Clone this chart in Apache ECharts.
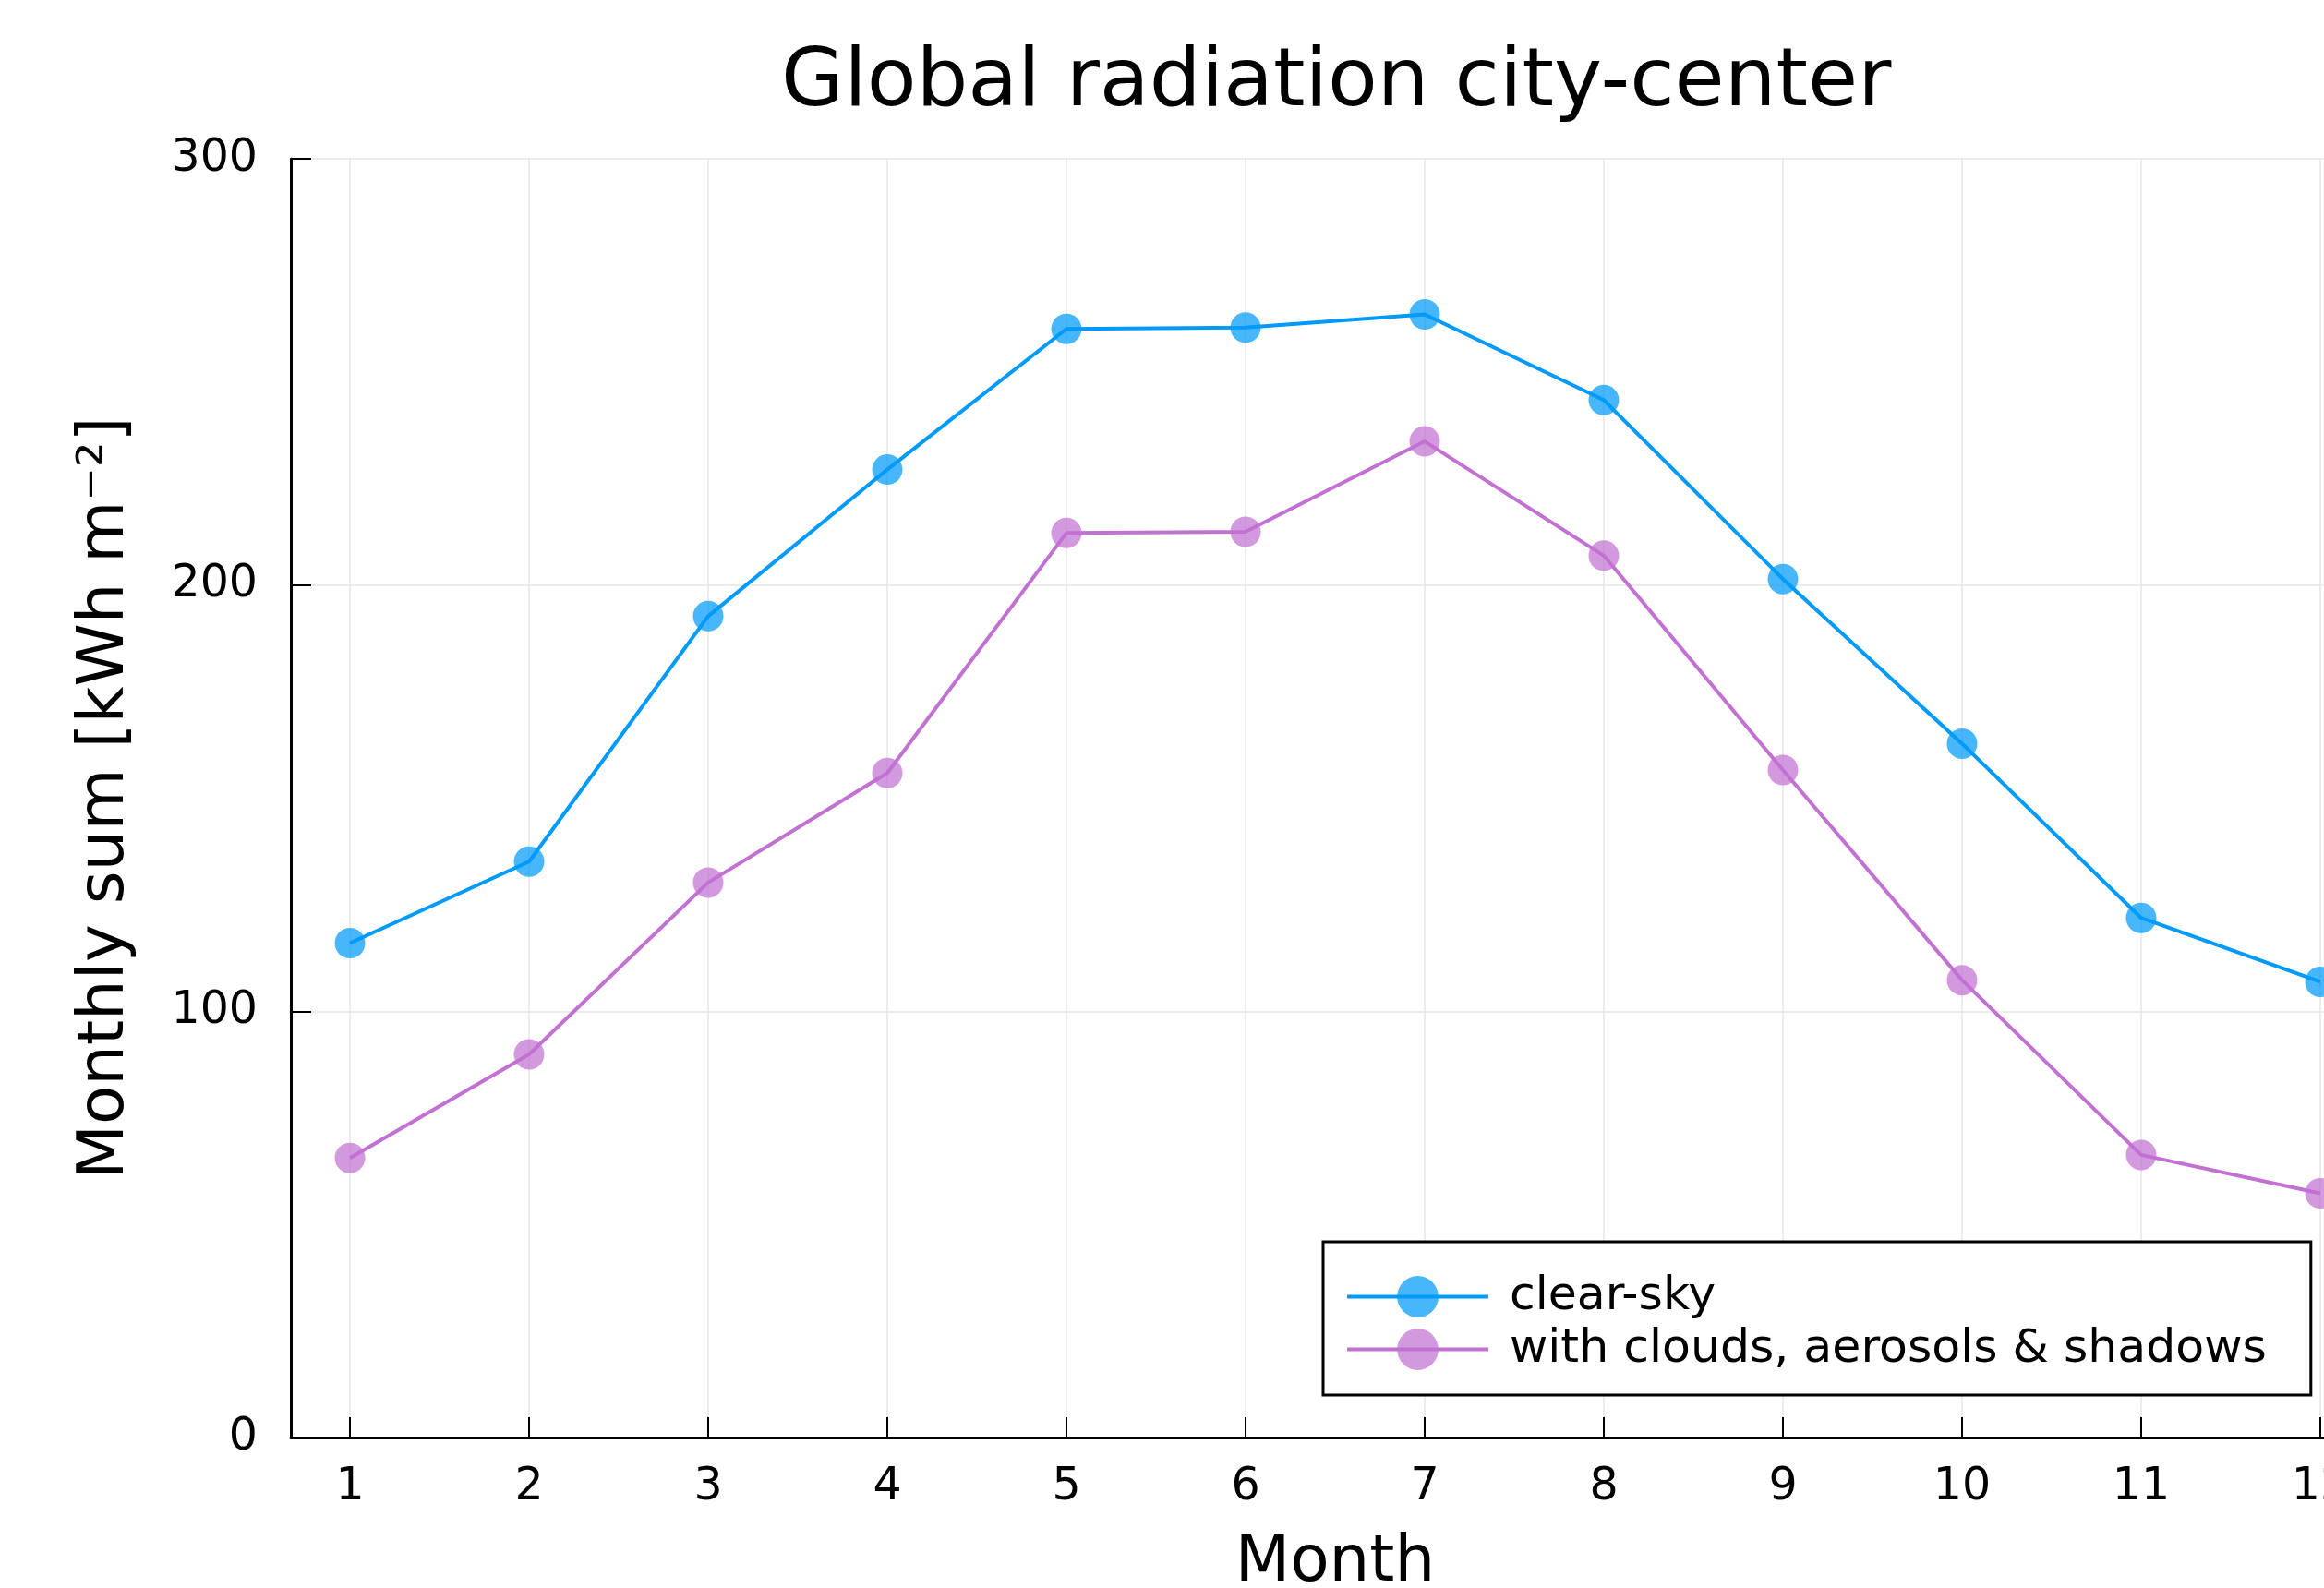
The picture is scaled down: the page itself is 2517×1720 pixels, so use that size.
<!DOCTYPE html>
<html>
<head>
<meta charset="utf-8">
<script src="https://cdn.jsdelivr.net/npm/echarts@6/dist/echarts.min.js"></script>
<style>
html,body{margin:0;padding:0;background:#fff;overflow:hidden;width:2517px;height:1720px;}
#chart{width:2620px;height:1720px;}
</style>
</head>
<body>
<div id="chart"></div>
<script>
const months = [1,2,3,4,5,6,7,8,9,10,11,12];
const clearSky = [116.0,135.1,192.7,227.1,260.1,260.4,263.5,243.4,201.4,162.8,121.9,106.9];
const withClouds = [65.6,89.9,130.2,155.9,212.2,212.5,233.7,206.9,156.6,107.3,66.3,57.3];
const yTicks = [0,100,200,300];
const seriesNames = ['clear-sky','with clouds, aerosols & shadows'];

const FONT = 'DejaVu Sans';
const chart = echarts.init(document.getElementById('chart'), null, {renderer:'canvas'});
const pair = (xs, ys) => xs.map((x,i)=>[x, ys[i]]);

chart.setOption({
  backgroundColor:'#ffffff',
  animation:false,
  title:{
    text:'Global radiation city-center',
    left:841, top:42,
    textStyle:{fontFamily:FONT, fontSize:88, fontWeight:'normal', color:'#000'}
  },
  grid:{left:315, top:172, width:2262, height:1385, containLabel:false, outerBoundsMode:'none'},
  xAxis:{
    type:'value', min:0.67, max:12.33,
    name:'Month', nameLocation:'middle', nameGap:103,
    nameTextStyle:{fontFamily:FONT, fontSize:69, color:'#000'},
    axisLine:{show:true, onZero:false, lineStyle:{color:'#000', width:3}},
    axisTick:{show:true, inside:true, length:22, lineStyle:{color:'#000', width:2}, customValues:months},
    axisLabel:{fontFamily:FONT, fontSize:49, color:'#000', margin:30, customValues:months},
    splitLine:{show:true, lineStyle:{color:'#e6e6e6', width:1.5}}
  },
  yAxis:{
    type:'value', min:0, max:300, interval:100,
    name:'Monthly sum [kWh m\u207b\u00b2]', nameLocation:'middle', nameGap:165,
    nameTextStyle:{fontFamily:FONT, fontSize:69, color:'#000'},
    axisLine:{show:true, lineStyle:{color:'#000', width:3}},
    axisTick:{show:true, inside:true, length:22, lineStyle:{color:'#000', width:2}, customValues:yTicks},
    axisLabel:{fontFamily:FONT, fontSize:49, color:'#000', margin:36, customValues:yTicks},
    splitLine:{show:true, lineStyle:{color:'#e6e6e6', width:1.5}}
  },
  legend:{
    orient:'vertical',
    left:1433, top:1345,
    padding:[34,48,24,24],
    itemWidth:153, itemHeight:56, itemGap:6,
    borderColor:'#000', borderWidth:3, borderRadius:0,
    backgroundColor:'#fff',
    lineStyle:{width:4},
    textStyle:{fontFamily:FONT, fontSize:50.5, color:'#000', padding:[0,0,0,18]},
    data:seriesNames
  },
  series:[
    {
      name:seriesNames[0], type:'line', data:pair(months, clearSky),
      symbol:'circle', symbolSize:33, showSymbol:true,
      lineStyle:{color:'#009AFA', width:4},
      itemStyle:{color:'#009AFA', opacity:0.72},
      z:3
    },
    {
      name:seriesNames[1], type:'line', data:pair(months, withClouds),
      symbol:'circle', symbolSize:33, showSymbol:true,
      lineStyle:{color:'#C271D2', width:4},
      itemStyle:{color:'#C271D2', opacity:0.72},
      z:2
    }
  ]
});
</script>
</body>
</html>
